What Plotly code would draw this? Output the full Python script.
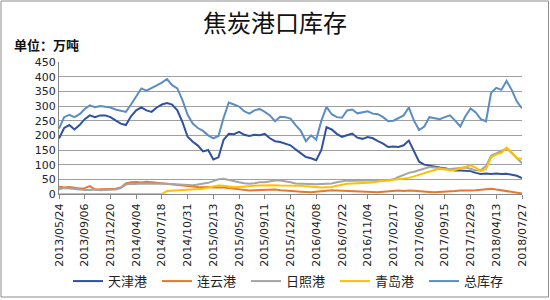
import pandas as pd
import plotly.graph_objects as go

# Weekly samples (every 3 weeks) from 2013/05/24 to 2018/07/27
dates = pd.date_range("2013-05-24", periods=91, freq="21D")

tianjin = [189, 225, 235, 220, 235, 255, 268, 262, 268, 268, 262, 250, 240, 235, 265, 285,
           295, 285, 280, 295, 305, 310, 305, 285, 245, 195, 178, 165, 145, 150, 118, 125,
           185, 205, 204, 212, 202, 198, 202, 200, 205, 190, 180, 177, 172, 166, 152, 140,
           126, 122, 115, 150, 228, 220, 205, 195, 200, 206, 192, 188, 194, 190, 180, 172,
           160, 162, 160, 166, 182, 145, 110, 100, 96, 93, 90, 88, 84, 80, 80, 80,
           78, 72, 68, 70, 68, 70, 68, 69, 66, 62, 54]

lianyun = [25, 22, 24, 21, 19, 20, 27, 15, 16, 17, 18, 18, 22, 36, 40, 41,
           39, 42, 40, 38, 36, 34, 33, 30, 29, 27, 26, 24, 23, 24, 22, 23,
           22, 20, 18, 17, 14, 12, 13, 14, 13, 14, 15, 13, 11, 10, 9, 8,
           7, 6, 8, 10, 12, 13, 12, 11, 12, 10, 8, 7, 8, 7, 6, 8,
           10, 11, 12, 10, 12, 11, 9, 8, 7, 6, 7, 6, 8, 10, 12, 11,
           12, 13, 14, 16, 18, 15, 12, 10, 7, 5, 2]

rizhao = [16, 20, 19, 17, 15, 14, 14, 15, 13, 14, 15, 15, 20, 32, 35, 34,
          36, 35, 34, 35, 36, 35, 33, 32, 30, 29, 30, 32, 35, 38, 44, 50,
          52, 48, 42, 40, 37, 35, 37, 40, 40, 43, 46, 46, 44, 40, 36, 35,
          35, 34, 33, 34, 35, 36, 40, 44, 46, 45, 46, 47, 46, 46, 45, 46,
          47, 50, 58, 66, 72, 76, 82, 88, 92, 90, 87, 86, 85, 86, 88, 90,
          86, 80, 82, 95, 130, 138, 145, 155, 140, 122, 105]

qingdao = [0, 0, 0, 0, 0, 0, 0, 0, 0, 0, 0, 0, 0, 0, 0, 0,
           0, 0, 0, 0, 0, 10, 11, 12, 12, 13, 15, 16, 18, 22, 26, 29,
           28, 25, 23, 24, 26, 27, 28, 29, 30, 31, 30, 29, 29, 29, 29, 28,
           26, 24, 23, 22, 23, 24, 28, 32, 35, 36, 36, 37, 38, 40, 43, 45,
           46, 48, 50, 52, 55, 60, 66, 70, 76, 82, 86, 84, 81, 82, 88, 94,
           98, 90, 78, 85, 125, 135, 140, 158, 142, 122, 120]

total = [223, 262, 270, 262, 272, 290, 302, 296, 300, 298, 295, 288, 283, 280, 305, 335,
         360, 352, 360, 370, 380, 392, 371, 360, 320, 270, 240, 225, 215, 200, 190, 198,
         260, 312, 305, 298, 282, 274, 285, 290, 280, 268, 248, 263, 262, 257, 235, 215,
         180, 200, 185, 250, 297, 272, 262, 260, 285, 288, 275, 278, 282, 274, 272, 262,
         248, 250, 260, 268, 295, 250, 218, 230, 262, 258, 255, 262, 268, 250, 230, 265,
         292, 278, 255, 248, 345, 362, 355, 385, 355, 315, 292]

tick_dates = pd.date_range("2013-05-24", periods=19, freq="105D")
tick_labels = [d.strftime("%Y/%m/%d") for d in tick_dates]

series = [
    ("天津港", tianjin, "#2F52A0"),
    ("连云港", lianyun, "#E8772E"),
    ("日照港", rizhao, "#A5A5A5"),
    ("青岛港", qingdao, "#FFC000"),
    ("总库存", total, "#5B8DC4"),
]

fig = go.Figure()
for name, vals, color in series:
    fig.add_trace(go.Scatter(x=dates, y=vals, name=name, mode="lines",
                             line=dict(color=color, width=2)))

fig.update_layout(
    width=550, height=300,
    margin=dict(l=59, r=28, t=62, b=106, autoexpand=False),
    paper_bgcolor="white", plot_bgcolor="white",
    font=dict(family="DejaVu Sans", size=11, color="#222"),
    title=dict(text="焦炭港口库存", x=0.5, xref="container", xanchor="center",
               y=1 - 24 / 300, yref="container", yanchor="middle",
               font=dict(family="Noto Sans CJK SC", size=24, color="#111")),
    showlegend=True,
    legend=dict(orientation="h", x=0.5, xanchor="center", y=-0.66, yanchor="middle",
                font=dict(family="Noto Sans CJK SC", size=13, color="#222"),
                entrywidth=44, entrywidthmode="pixels", itemwidth=30,
                bgcolor="rgba(0,0,0,0)", traceorder="normal"),
    annotations=[dict(text="<b>单位：万吨</b>", xref="paper", yref="paper",
                      x=-59 / 463 + 12 / 463, y=(132 + 62 - 45) / 132,
                      xanchor="left", yanchor="middle", showarrow=False,
                      font=dict(family="Noto Sans CJK SC", size=13, color="#111"))],
    shapes=[dict(type="rect", xref="paper", yref="paper",
                 x0=-58 / 463, x1=(463 + 26.5) / 463,
                 y0=-103 / 132, y1=(132 + 61) / 132,
                 line=dict(color="#8C8C8C", width=1), fillcolor="rgba(0,0,0,0)")],
)

fig.update_xaxes(range=[dates[0], tick_dates[-1]], tickmode="array",
                 tickvals=tick_dates, ticktext=tick_labels, tickangle=-90,
                 showgrid=False, showline=True, linecolor="#888", linewidth=1,
                 ticks="outside", ticklen=4, tickcolor="#888",
                 tickfont=dict(family="DejaVu Sans", size=11, color="#222"))
fig.update_yaxes(range=[0, 450], dtick=50, showgrid=True, gridcolor="#A0A0A0",
                 gridwidth=1, showline=True, linecolor="#888", linewidth=1,
                 zeroline=False, ticks="",
                 tickfont=dict(family="DejaVu Sans", size=11, color="#222"))

fig.write_html("out.html")
